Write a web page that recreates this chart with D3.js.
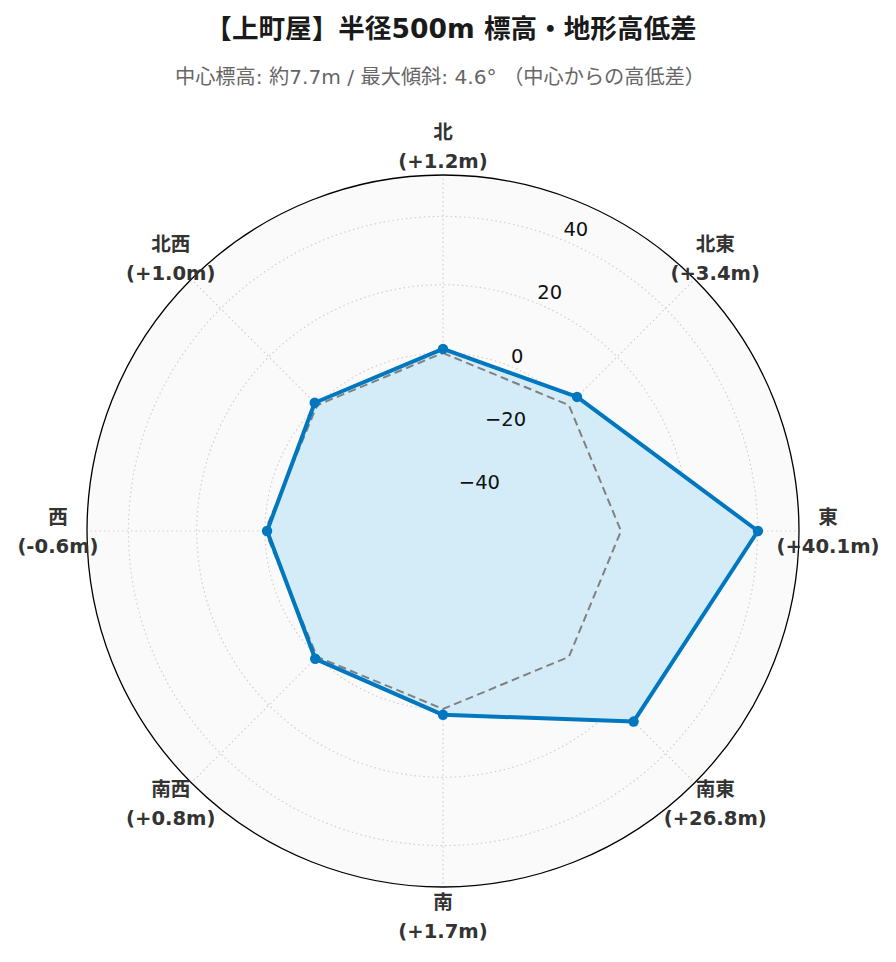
<!DOCTYPE html>
<html><head><meta charset="utf-8">
<script src="https://cdn.jsdelivr.net/npm/d3@7"></script>
<style>body{margin:0;background:#fff;} svg{display:block;}</style>
</head><body>
<svg id="chart" width="896" height="962"></svg>
<script>
const directions = ["北","北東","東","南東","南","南西","西","北西"];
const values = [1.2, 3.4, 40.1, 26.8, 1.7, 0.8, -0.6, 1.0];
const valueLabels = ["(+1.2m)","(+3.4m)","(+40.1m)","(+26.8m)","(+1.7m)","(+0.8m)","(-0.6m)","(+1.0m)"];
const radialTicks = [-40, -20, 0, 20, 40];
const radialTickLabels = ["−40","−20","0","20","40"];
const titleText = "【上町屋】半径500m 標高・地形高低差";
const subtitleText = "中心標高: 約7.7m / 最大傾斜: 4.6° （中心からの高低差）";

const svg = d3.select("#chart");
const cx = 443, cy = 531, R = 356;
const lim = 40.1 * 1.3;
const r = d3.scaleLinear().domain([-lim, lim]).range([0, R]);
const ang = d3.scaleLinear().domain([0, directions.length]).range([0, 2 * Math.PI]);
const pt = (i, v) => [cx + r(v) * Math.sin(ang(i)), cy - r(v) * Math.cos(ang(i))];

const FONT = "'DejaVu Sans','Noto Sans CJK JP',sans-serif";

svg.append("text").attr("x", 451).attr("y", 38).attr("text-anchor", "middle")
  .attr("font-family", FONT).attr("font-weight", "bold")
  .attr("font-size", 26.6).attr("fill", "#1a1a1a").text(titleText);
svg.append("text").attr("x", 440).attr("y", 84).attr("text-anchor", "middle")
  .attr("font-family", FONT).attr("font-size", 20.2).attr("fill", "#666").text(subtitleText);

const g = svg.append("g");
g.append("circle").attr("cx", cx).attr("cy", cy).attr("r", R).attr("fill", "#fafafa");

// grid circles
g.selectAll(".gc").data(radialTicks).join("circle")
  .attr("cx", cx).attr("cy", cy).attr("r", d => r(d))
  .attr("fill", "none").attr("stroke", "#cfcfcf").attr("stroke-width", 1.2)
  .attr("stroke-dasharray", "1.5,3");
// spokes
g.selectAll(".sp").data(directions).join("line")
  .attr("x1", cx).attr("y1", cy)
  .attr("x2", (d, i) => cx + R * Math.sin(ang(i)))
  .attr("y2", (d, i) => cy - R * Math.cos(ang(i)))
  .attr("stroke", "#cfcfcf").attr("stroke-width", 1.2).attr("stroke-dasharray", "1.5,3");

// fill
const lineGen = d3.lineRadial().angle((d, i) => ang(i)).radius(d => r(d)).curve(d3.curveLinearClosed);
g.append("path").attr("transform", `translate(${cx},${cy})`).attr("d", lineGen(values))
  .attr("fill", "#d3ecf8").attr("stroke", "none");

// baseline zero
g.append("path").attr("transform", `translate(${cx},${cy})`).attr("d", lineGen(values.map(() => 0)))
  .attr("fill", "none").attr("stroke", "#808080").attr("stroke-width", 2).attr("stroke-dasharray", "8,4.5");

// data line
g.append("path").attr("transform", `translate(${cx},${cy})`).attr("d", lineGen(values))
  .attr("fill", "none").attr("stroke", "#0077be").attr("stroke-width", 4).attr("stroke-linejoin", "round");
g.selectAll(".mk").data(values).join("circle")
  .attr("cx", (d, i) => pt(i, d)[0]).attr("cy", (d, i) => pt(i, d)[1]).attr("r", 5.2)
  .attr("fill", "#0077be");

// outer circle
g.append("circle").attr("cx", cx).attr("cy", cy).attr("r", R)
  .attr("fill", "none").attr("stroke", "#000").attr("stroke-width", 1.3);

// radial tick labels along 22.5deg
const la = Math.PI / 8;
g.selectAll(".rl").data(radialTicks).join("text")
  .attr("x", d => cx + r(d) * Math.sin(la))
  .attr("y", d => cy - r(d) * Math.cos(la) - 4)
  .attr("font-family", FONT).attr("font-size", 19.5).attr("fill", "#111")
  .text((d, i) => radialTickLabels[i]);

// angular labels
const LR = 385;
const al = g.selectAll(".al").data(directions).join("text")
  .attr("text-anchor", "middle").attr("font-family", FONT).attr("font-weight", "bold")
  .attr("font-size", 19.6).attr("fill", "#333");
al.append("tspan").attr("x", (d, i) => cx + LR * Math.sin(ang(i)))
  .attr("y", (d, i) => cy - LR * Math.cos(ang(i)) - 7.5).text(d => d);
al.append("tspan").attr("x", (d, i) => cx + LR * Math.sin(ang(i)))
  .attr("y", (d, i) => cy - LR * Math.cos(ang(i)) + 21.5).text((d, i) => valueLabels[i]);
</script>
</body></html>
